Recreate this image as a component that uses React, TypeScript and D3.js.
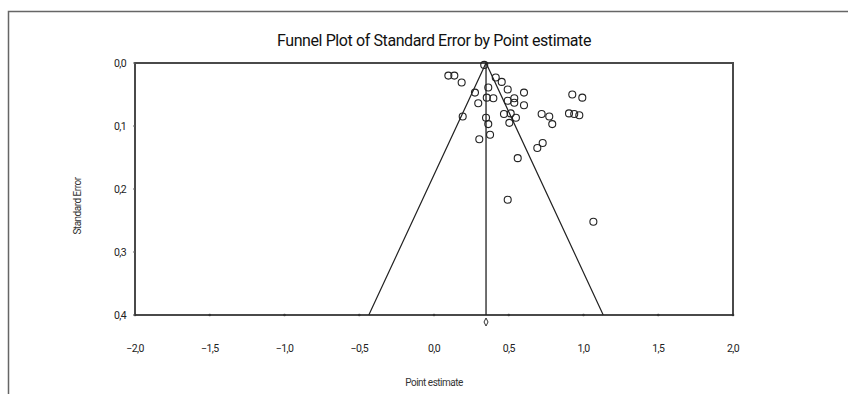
import React from 'react';
import * as d3 from 'd3';

// point estimates and their standard errors
const estimates = [
  0.096, 0.136, 0.185, 0.336, 0.274, 0.363, 0.413, 0.453, 0.493, 0.602,
  0.353, 0.397, 0.296, 0.493, 0.537, 0.537, 0.602, 0.925, 0.992, 0.192,
  0.348, 0.363, 0.468, 0.513, 0.548, 0.504, 0.72, 0.771, 0.791, 0.903,
  0.938, 0.972, 0.375, 0.303, 0.727, 0.691, 0.56, 0.493, 1.066,
];
const stdErrors = [
  0.02, 0.02, 0.031, 0.003, 0.047, 0.039, 0.023, 0.03, 0.042, 0.047,
  0.055, 0.056, 0.064, 0.06, 0.056, 0.063, 0.067, 0.05, 0.055, 0.085,
  0.087, 0.097, 0.081, 0.08, 0.087, 0.095, 0.081, 0.085, 0.097, 0.08,
  0.081, 0.083, 0.114, 0.121, 0.127, 0.135, 0.151, 0.217, 0.252,
];
const combined = 0.348;
const xTicks = [-2, -1.5, -1, -0.5, 0, 0.5, 1, 1.5, 2];
const yTicks = [0, 0.1, 0.2, 0.3, 0.4];

const W = 848;
const H = 394;
const m = { left: 135, right: 733, top: 63, bottom: 315 };
const font = 'Roboto, "Noto Sans", sans-serif';

export default function App() {
  const x = d3.scaleLinear().domain([-2, 2]).range([m.left, m.right]);
  const y = d3.scaleLinear().domain([0, 0.4]).range([m.top, m.bottom]);
  // comma decimal separator as in the original
  const fmt = (v: number) => d3.format('.1f')(v).replace('.', ',');

  const funnel = d3.line<[number, number]>()
    .x(d => x(d[0]))
    .y(d => y(d[1]));
  const funnelPts: [number, number][] = [
    [combined - 1.96 * 0.4, 0.4],
    [combined, 0],
    [combined + 1.96 * 0.4, 0.4],
  ];

  const data = estimates.map((e, i) => ({ e, se: stdErrors[i] }));

  return (
    <svg width={W} height={H} style={{ position: 'absolute', left: 0, top: 0, background: '#fff' }}>
      {/* outer frame */}
      <path d={`M8.5,${H} V11.5 H${W}`} fill="none" stroke="#666" strokeWidth={1.5} />

      <text x={434} y={46} textAnchor="middle" fontFamily={font} fontSize={16} fill="#111" letterSpacing={-0.4}>
        Funnel Plot of Standard Error by Point estimate
      </text>

      {/* plot frame */}
      <rect x={m.left} y={m.top} width={m.right - m.left} height={m.bottom - m.top}
        fill="none" stroke="#4a4a4a" strokeWidth={2} />

      {/* x ticks */}
      {xTicks.map(t => (
        <g key={'x' + t}>
          <circle cx={x(t)} cy={m.bottom} r={1.3} fill="#333" />
          <text x={x(t)} y={352} textAnchor="middle" fontFamily={font} fontSize={10.5} fill="#222" letterSpacing={-0.6}>
            {fmt(t)}
          </text>
        </g>
      ))}

      {/* y ticks */}
      {yTicks.map(t => (
        <g key={'y' + t}>
          <line x1={m.left - 2} x2={m.left} y1={y(t)} y2={y(t)} stroke="#666" />
          <text x={120} y={y(t) + 3.5} textAnchor="middle" fontFamily={font} fontSize={10.5} fill="#222" letterSpacing={-0.6}>
            {fmt(t)}
          </text>
        </g>
      ))}

      <text x={434} y={386} textAnchor="middle" fontFamily={font} fontSize={10} fill="#333" letterSpacing={-0.5}>
        Point estimate
      </text>
      <text transform="translate(81,206) rotate(-90)" textAnchor="middle" fontFamily={font} fontSize={10} fill="#333" letterSpacing={-0.5}>
        Standard Error
      </text>

      {/* funnel and combined effect line */}
      <path d={funnel(funnelPts) ?? ''} fill="none" stroke="#222" strokeWidth={1.2} />
      <line x1={x(combined)} x2={x(combined)} y1={y(0)} y2={y(0.4)} stroke="#222" strokeWidth={1.3} />
      <path
        d={`M${x(combined)},${m.bottom + 3} l2,4 l-2,4 l-2,-4 z`}
        fill="none" stroke="#333" strokeWidth={1} />

      {/* studies */}
      {data.map((d, i) => (
        <circle key={i} cx={x(d.e)} cy={y(d.se)} r={3.5} fill="none" stroke="#222" strokeWidth={1.1} />
      ))}
    </svg>
  );
}
